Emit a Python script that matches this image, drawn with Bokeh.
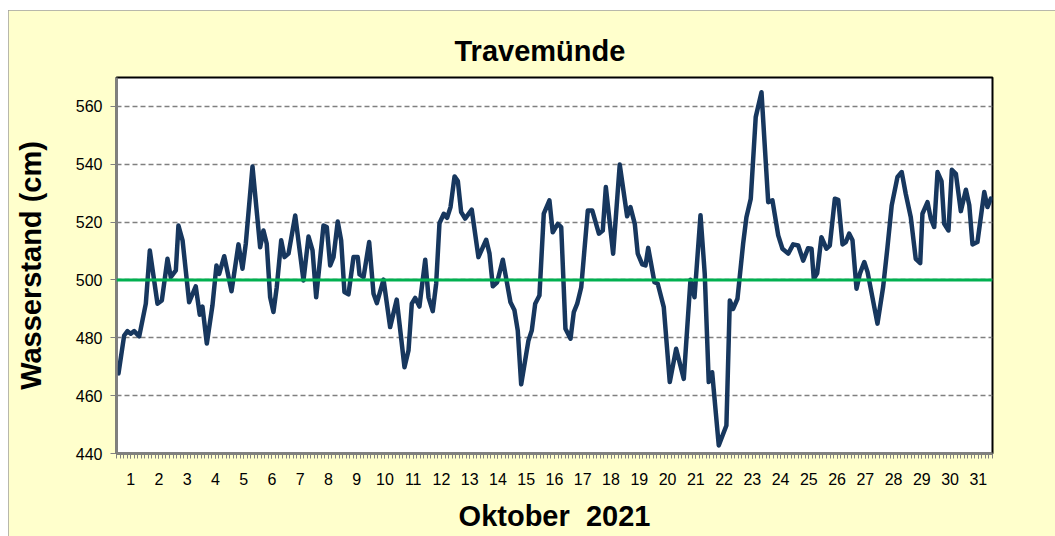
from bokeh.plotting import figure
from bokeh.models import FixedTicker, Span, Range1d
from bokeh.embed import file_html
from bokeh.resources import INLINE

title_text = "Travemünde"
x_label = "Oktober \u00a02021"
y_label = "Wasserstand (cm)"
days = list(range(1, 32))
y_ticks = [440, 460, 480, 500, 520, 540, 560]
reference_level = 500

# hours since 1 Oct 00:00 and water level (cm)
hours = [1.7, 6.5, 9.3, 12.1, 15.0, 19.3, 24.9, 28.3, 34.8, 38.5, 43.3, 46.1, 50.4, 52.6, 56.1,
         61.7, 67.3, 70.7, 73.0, 76.7, 81.5, 84.9, 87.2, 91.5, 97.7, 103.6, 107.0, 109.8, 115.5,
         122.0, 124.8, 127.6, 130.5, 133.3, 136.1, 139.9, 142.7, 146.1, 151.8, 158.8, 163.1,
         166.5, 169.6, 175.8, 178.6, 181.5, 184.3, 187.9, 190.8, 193.6, 197.0, 201.3, 204.9,
         206.4, 209.8, 214.6, 218.3, 221.1, 226.8, 232.4, 238.0, 244.6, 248.0, 250.8, 253.7,
         257.3, 262.2, 265.0, 268.6, 271.5, 274.3, 278.0, 280.8, 283.7, 287.1, 289.9, 292.7,
         296.1, 301.7, 307.4, 314.0, 316.8, 319.6, 323.3, 328.1, 334.6, 338.0, 340.8, 343.7,
         349.9, 352.7, 355.6, 359.2, 362.9, 367.7, 370.5, 374.8, 377.7, 381.3, 385.6, 388.4,
         391.3, 394.7, 400.3, 404.1, 409.7, 413.0, 415.6, 421.8, 427.4, 433.7, 436.5, 440.2,
         442.7, 446.5, 449.3, 451.6, 456.9, 459.7, 464.8, 469.9, 475.3, 481.8, 487.5, 490.9,
         496.0, 499.6, 503.0, 505.9, 511.5, 518.0, 520.9, 523.7, 527.4, 532.2, 535.0, 538.7,
         542.9, 547.8, 553.5, 557.1, 562.0, 565.6, 570.5, 574.7, 579.0, 583.2, 587.4, 590.3,
         592.2, 595.1, 598.7, 603.0, 605.8, 610.1, 613.0, 616.6, 619.4, 622.3, 625.1, 628.5,
         631.3, 635.1, 637.9, 646.3, 651.1, 654.8, 658.4, 663.3, 666.9, 670.3, 674.6, 678.8,
         682.6, 684.5, 688.8, 691.6, 694.5, 697.3, 700.7, 703.0, 706.6, 709.5, 712.9, 717.1,
         721.4, 724.3, 727.0, 731.2, 737.0, 739.7, 742.6]
level = [467.7, 480.8, 482.3, 481.4, 482.3, 480.5, 491.8, 510.2, 491.8, 492.9, 507.3, 501.0,
         503.3, 518.8, 513.7, 492.3, 497.8, 488.0, 490.8, 478.0, 491.2, 505.0, 502.1, 508.2,
         496.1, 512.3, 503.9, 512.5, 539.2, 511.3, 517.1, 512.5, 494.0, 488.9, 497.5, 513.7,
         507.9, 509.1, 522.3, 499.8, 515.0, 510.2, 494.0, 518.8, 518.3, 505.0, 507.9, 520.2,
         513.7, 495.8, 495.0, 507.9, 507.9, 501.9, 501.0, 513.1, 495.2, 492.0, 500.1, 483.7,
         493.2, 469.8, 475.6, 491.8, 493.8, 490.8, 507.0, 494.0, 489.2, 498.7, 519.6, 522.9,
         521.5, 525.2, 535.8, 534.2, 523.5, 521.2, 524.3, 507.9, 513.9, 509.1, 497.8, 499.2,
         507.0, 492.3, 489.5, 482.5, 463.9, 479.1, 482.5, 491.8, 494.6, 522.9, 527.5, 516.5,
         519.4, 518.3, 483.1, 479.7, 488.9, 491.8, 497.5, 524.0, 524.0, 516.0, 517.1, 532.1,
         509.1, 539.9, 522.0, 525.2, 519.4, 509.1, 505.4, 505.0, 511.1, 499.2, 498.7, 490.6,
         464.7, 476.2, 465.8, 500.1, 494.0, 522.4, 502.1, 464.7, 468.1, 442.8, 449.7, 492.9,
         490.0, 493.5, 512.5, 521.7, 528.1, 556.3, 564.9, 526.9, 527.5, 515.4, 510.8, 509.1,
         512.3, 511.9, 506.7, 511.0, 510.8, 500.4, 502.3, 514.8, 510.8, 511.9, 528.1, 527.7,
         512.3, 513.1, 516.0, 513.7, 497.0, 502.1, 506.2, 502.7, 484.9, 497.5, 511.3, 525.8,
         535.6, 537.3, 529.8, 521.7, 507.3, 505.8, 522.9, 526.9, 521.2, 518.3, 537.3, 534.2,
         519.4, 517.1, 538.1, 536.7, 523.8, 531.2, 525.8, 512.3, 513.1, 530.4, 525.2, 528.1]

font = "Liberation Sans"
grey = "#808080"

p = figure(frame_width=876, frame_height=376,
           min_border_left=108, min_border_right=63, min_border_top=67, min_border_bottom=83,
           x_range=Range1d(0, 744), y_range=Range1d(440, 570),
           output_backend="svg", toolbar_location=None,
           background_fill_color="white", border_fill_color="#FFFFCC",
           title=title_text)
p.styles = {"margin-left": "8px", "margin-top": "10px",
            "outline": "1px solid #A0A0A0", "outline-offset": "-1px"}

p.title.align = "left"
p.title.offset = 338
p.title.text_font = font
p.title.text_font_size = "29px"
p.title.text_font_style = "bold"
p.title.text_color = "black"
p.title.standoff = 21

p.outline_line_color = "black"
p.outline_line_width = 2

# x axis
mid_ticks = [24 * (d - 1) + 12 for d in days]
p.xaxis.ticker = FixedTicker(ticks=mid_ticks, minor_ticks=list(range(0, 745, 3)))
p.xaxis.major_label_overrides = {t: str(d) for t, d in zip(mid_ticks, days)}
p.xaxis.axis_label = x_label
for ax in (p.xaxis, p.yaxis):
    ax.axis_line_color = grey
    ax.axis_line_width = 2.5
    ax.major_tick_line_color = grey
    ax.minor_tick_line_color = grey
    ax.major_tick_in = 0
    ax.minor_tick_in = 0
    ax.major_label_text_font = font
    ax.major_label_text_font_size = "16px"
    ax.major_label_text_color = "black"
    ax.axis_label_text_font = font
    ax.axis_label_text_font_size = "29px"
    ax.axis_label_text_font_style = "bold"
    ax.axis_label_text_color = "black"
p.xaxis.major_tick_out = 5
p.xaxis.minor_tick_out = 5
p.xaxis.major_label_standoff = 14
p.xaxis.axis_label_standoff = 12

p.yaxis.ticker = FixedTicker(ticks=y_ticks, minor_ticks=[])
p.yaxis.axis_label = y_label
p.yaxis.major_tick_out = 6
p.yaxis.major_label_standoff = 8
p.yaxis.axis_label_standoff = 26

p.xgrid.visible = False
p.ygrid.ticker = FixedTicker(ticks=y_ticks[1:])
p.ygrid.grid_line_color = grey
p.ygrid.grid_line_width = 1.5
p.ygrid.grid_line_dash = "5 3"

p.line(hours, level, line_color="#17375E", line_width=4.5, line_join="round", line_cap="round")
p.add_layout(Span(location=reference_level, dimension="width", line_color="#00B050", line_width=3))

open("out.html", "w").write(file_html(p, INLINE))
